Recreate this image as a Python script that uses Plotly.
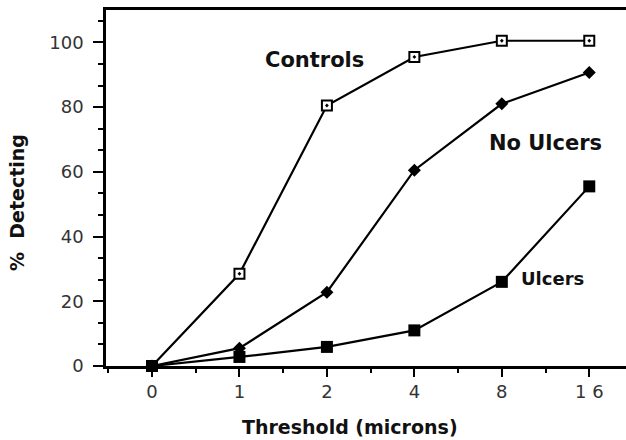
import plotly.graph_objects as go

thresholds = ["0", "1", "2", "4", "8", "1 6"]
controls = [0, 28.5, 80.5, 95.5, 100.5, 100.5]
no_ulcers = [0, 5.5, 22.8, 60.5, 81, 90.7]
ulcers = [0, 2.8, 5.9, 11, 26, 55.5]

xpos = list(range(len(thresholds)))

fig = go.Figure()
fig.add_trace(go.Scatter(
    x=xpos, y=controls, mode="lines+markers", cliponaxis=False,
    line=dict(color="black", width=2.2),
    marker=dict(symbol="square-dot", size=10, color="white",
                line=dict(color="black", width=2)),
    name="Controls"))
fig.add_trace(go.Scatter(
    x=xpos, y=no_ulcers, mode="lines+markers", cliponaxis=False,
    line=dict(color="black", width=2.2),
    marker=dict(symbol="diamond", size=10, color="black"),
    name="No Ulcers"))
fig.add_trace(go.Scatter(
    x=xpos, y=ulcers, mode="lines+markers", cliponaxis=False,
    line=dict(color="black", width=2.2),
    marker=dict(symbol="square", size=12, color="black"),
    name="Ulcers"))

bold = "DejaVu Sans"
fig.update_layout(
    width=626, height=440,
    margin=dict(l=106, r=0, t=10, b=74),
    paper_bgcolor="white", plot_bgcolor="white",
    showlegend=False,
    font=dict(family="DejaVu Sans", color="#333"),
    xaxis=dict(
        range=[-0.526, 5.42],
        tickmode="array", tickvals=xpos, ticktext=thresholds,
        ticks="outside", ticklen=8, tickwidth=2, tickcolor="black",
        showline=True, linecolor="black", linewidth=2.5, mirror=True,
        showgrid=False, zeroline=False,
        tickfont=dict(size=18, color="#333"),
        minor=dict(tickmode="linear", tick0=-0.5, dtick=1, ticks="outside",
                   ticklen=4, tickwidth=2, tickcolor="black", showgrid=False),
    ),
    yaxis=dict(
        range=[0, 110],
        tickmode="linear", tick0=0, dtick=20,
        ticks="outside", ticklen=10, tickwidth=2, tickcolor="black",
        showline=True, linecolor="black", linewidth=2.5,
        showgrid=False, zeroline=False,
        tickfont=dict(size=18, color="#333"),
        ticklabelstandoff=6,
        minor=dict(tickmode="linear", tick0=0, dtick=20/3, ticks="outside",
                   ticklen=5, tickwidth=2, tickcolor="black", showgrid=False),
    ),
)

def ann(text, px, py, size, angle=0):
    fig.add_annotation(
        text=f"<b>{text}</b>", xref="paper", yref="paper",
        x=(px - 106) / 520, y=(366 - py) / 356,
        xanchor="center", yanchor="middle", showarrow=False,
        textangle=angle,
        font=dict(family=bold, size=size, color="#111"))

ann("Controls", 314, 60, 21)
ann("No Ulcers", 545, 143, 21)
ann("Ulcers", 552, 278.5, 18)
ann("Threshold (microns)", 350, 427, 19)
ann("%  Detecting", 17, 203, 19, angle=-90)

fig.write_html("out.html",
               config={"displayModeBar": False},
               post_script="document.body.style.margin='0px';document.body.style.overflow='hidden';")
